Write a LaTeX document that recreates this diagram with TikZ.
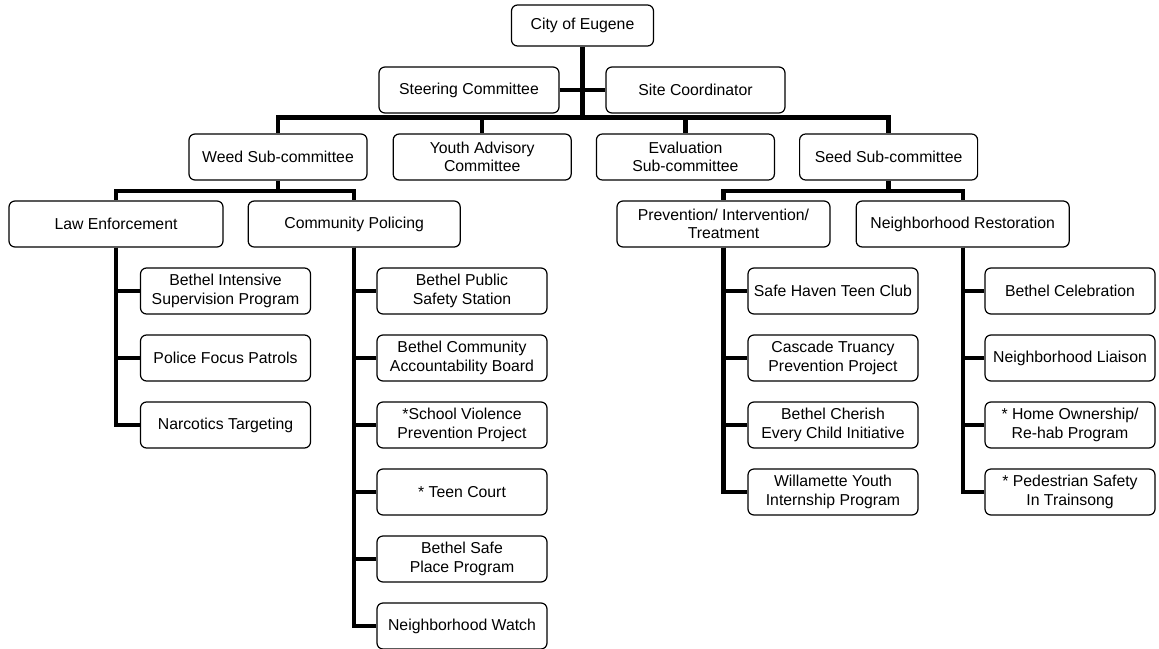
\documentclass[tikz,border=0pt]{standalone}
\usepackage{fontspec}
\setmainfont{Liberation Sans}
\usepackage{tikz}
\usetikzlibrary{positioning,calc}

\begin{document}
\begin{tikzpicture}[
    x=1pt, y=1pt,
    org/.style={rectangle, draw=black, line width=1.2pt, rounded corners=6pt, minimum width=#1, minimum height=46pt, inner sep=2pt, align=center, font=\fontsize{15.8}{18.5}\selectfont},
    org/.default=178pt,
    item/.style={org=170pt},
    link/.style={line width=4.3pt, color=black},
    node distance=24pt
]
    \useasboundingbox (0,0) rectangle (1159,-648);

    % Top of the tree
    \node[org=142pt, minimum height=41pt] (city) at (582.5,-25.5) {City of Eugene};
    \node[org=180pt] (steering) at (469,-90)   {Steering Committee};
    \node[org=179pt] (site)     at (695.5,-90) {Site Coordinator};

    % Sub-committees in a row
    \node[org]                        (weed)  at (278,-157) {Weed Sub-committee};
    \node[org, right=25pt of weed]    (youth) {Youth Advisory\\Committee};
    \node[org, right=of youth]        (eval)  {Evaluation\\Sub-committee};
    \node[org, right=of eval]         (seed)  {Seed Sub-committee};

    % Weed and Seed branches
    \node[org=214pt]                  (law)  at (116,-224)   {Law Enforcement};
    \node[org=212pt, right=of law]    (comm) {Community Policing};
    \node[org=213pt]                  (prev) at (723.5,-224) {Prevention/ Intervention/\\Treatment};
    \node[org=213pt, right=25pt of prev] (rest) {Neighborhood Restoration};

    % Programs under each branch
    \foreach \txt [count=\i] in {{Bethel Intensive\\Supervision Program}, {Police Focus Patrols}, {Narcotics Targeting}}
        \node[item] (law-\i) at (225.5,-291-67*\i+67) {\txt};
    \foreach \txt [count=\i] in {{Bethel Public\\Safety Station}, {Bethel Community\\Accountability Board}, {*School Violence\\Prevention Project}, {* Teen Court}, {Bethel Safe\\Place Program}, {Neighborhood Watch}}
        \node[item] (comm-\i) at (462,-291-67*\i+67) {\txt};
    \foreach \txt [count=\i] in {{Safe Haven Teen Club}, {Cascade Truancy\\Prevention Project}, {Bethel Cherish\\Every Child Initiative}, {Willamette Youth\\Internship Program}}
        \node[item] (prev-\i) at (833,-291-67*\i+67) {\txt};
    \foreach \txt [count=\i] in {{Bethel Celebration}, {Neighborhood Liaison}, {* Home Ownership/\\Re-hab Program}, {* Pedestrian Safety\\In Trainsong}}
        \node[item] (rest-\i) at (1070,-291-67*\i+67) {\txt};

    % Main bus
    \draw[link] (city.south) -- ++(0,-71) coordinate (bus);
    \draw[link] (steering.east) -- (site.west);
    \foreach \n in {weed, youth, eval, seed}
        \draw[link] (bus) -| (\n.north);

    % Sub-buses
    \draw[link] (weed.south) -- ++(0,-10.5) coordinate (wbus);
    \draw[link] (wbus) -| (law.north);
    \draw[link] (wbus) -| (comm.north);
    \draw[link] (seed.south) -- ++(0,-10.5) coordinate (sbus);
    \draw[link] (sbus) -| (prev.north);
    \draw[link] (sbus) -| (rest.north);

    % Stubs to the programs
    \foreach \i in {1,...,3} \draw[link] (law.south)  |- (law-\i.west);
    \foreach \i in {1,...,6} \draw[link] (comm.south) |- (comm-\i.west);
    \foreach \i in {1,...,4} \draw[link] (prev.south) |- (prev-\i.west);
    \foreach \i in {1,...,4} \draw[link] (rest.south) |- (rest-\i.west);

\end{tikzpicture}
\end{document}
